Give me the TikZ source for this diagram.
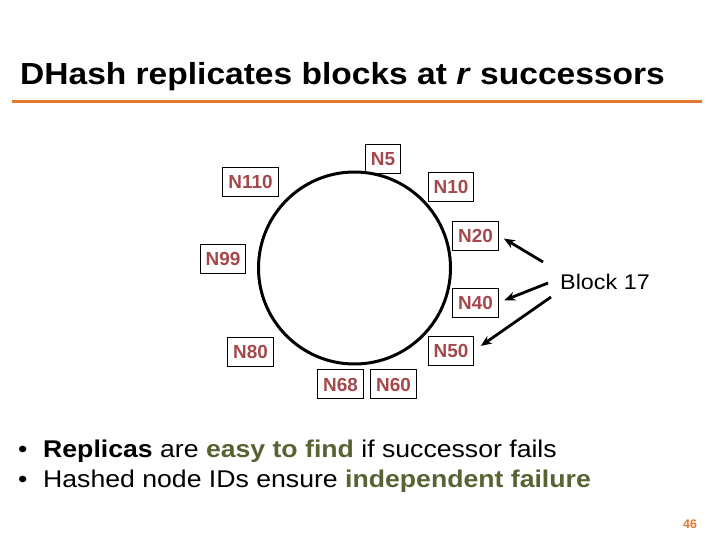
\documentclass[tikz,border=0pt]{standalone}
\usepackage{fontspec}
\setmainfont{Liberation Sans}
\newfontfamily\widefont{Liberation Sans}[FakeStretch=1.1]
\usepackage{tikz}
\usetikzlibrary{calc,arrows.meta}

\definecolor{slideorange}{HTML}{E07A30}
\definecolor{nodered}{HTML}{A5484B}
\definecolor{olive}{HTML}{566433}

\begin{document}
\begin{tikzpicture}[x=1bp,y=-1bp,>={Stealth[length=11bp,width=9bp]},
    nbox/.style={draw,line width=0.8bp,text=nodered,inner xsep=5.5bp,inner ysep=0pt,
      minimum height=29bp,text height=14bp,text depth=0pt,font=\fontsize{19}{22}\selectfont\bfseries},
    arr/.style={->,line width=2.8bp,shorten >=6bp}]
      \useasboundingbox (0,0) rectangle (720,540);
      % title and rule
      \node[anchor=base west,inner sep=0pt,font=\widefont\fontsize{30.6}{36}\selectfont\bfseries] (title)
        at (20,85) {DHash replicates blocks at \textit{r} successors};
      \draw[slideorange,line width=3.3bp] (12,101.7) -- (701.7,101.7);
      % the ring
      \draw[line width=3bp] (354.5,268) circle (96bp);
      \node[nbox] (n5) at (383,158.5) {N5};
      \node[nbox] (n110) at (250.5,181.5) {N110};
      \node[nbox] (n10) at (451,187) {N10};
      \node[nbox] (n20) at (475.5,235.5) {N20};
      \node[nbox] (n99) at (223,259) {N99};
      \node[nbox] (n40) at (475.5,302.5) {N40};
      \node[nbox] (n80) at (250.5,351.5) {N80};
      \node[nbox] (n50) at (451,350.5) {N50};
      \node[nbox] (n68) at (340.5,384) {N68};
      \node[nbox] (n60) at (393.5,384) {N60};
      % the block and its replicas
      \node[inner sep=0pt,font=\widefont\fontsize{21.3}{25}\selectfont] (blk) at (605,282) {Block 17};
      \draw[arr] ([shift={(-17,-20)}]blk.west) -- (n20.east);
      \draw[arr] ([shift={(-12,1)}]blk.west) -- (n40.east);
      \draw[arr,shorten >=8bp] ([shift={(-9,15)}]blk.west) -- (n50.east);
      % bullets
      \node[anchor=base west,inner sep=0pt,font=\widefont\fontsize{24.3}{29}\selectfont] (b1) at (18,457)
        {\makebox[25bp][l]{•}\textbf{Replicas} are \textcolor{olive}{\textbf{easy to find}} if successor fails};
      \node[anchor=base west,inner sep=0pt,font=\widefont\fontsize{24.3}{29}\selectfont] (b2) at (18,487)
        {\makebox[25bp][l]{•}Hashed node IDs ensure \textcolor{olive}{\textbf{independent failure}}};
      \node[inner sep=0pt,text=slideorange,font=\fontsize{12.5}{14}\selectfont\bfseries] (pg) at (690,524) {46};
    \end{tikzpicture}
\end{document}
